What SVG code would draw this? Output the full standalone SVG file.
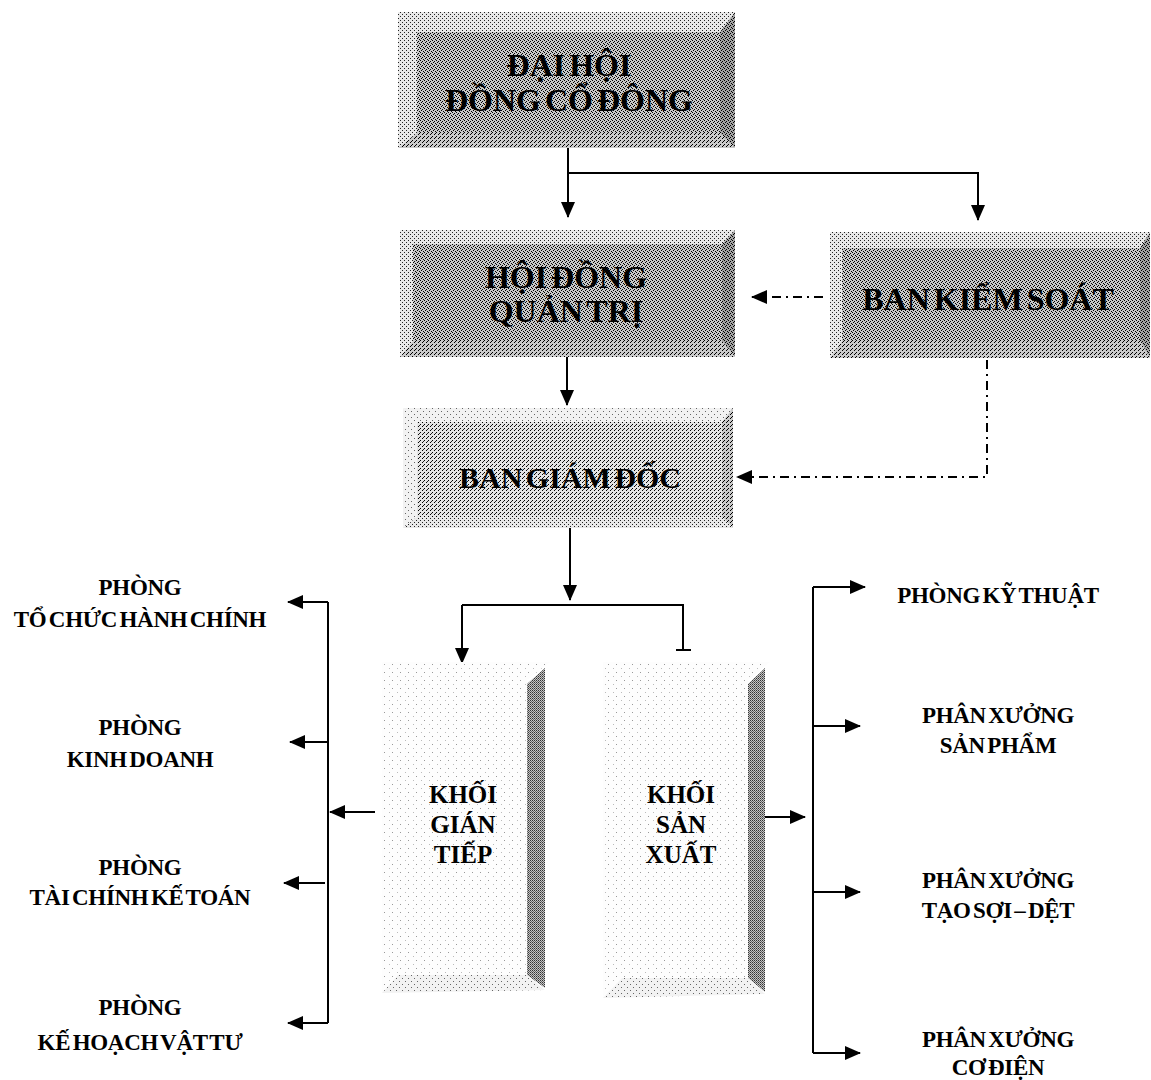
<svg xmlns="http://www.w3.org/2000/svg" width="1151" height="1080" viewBox="0 0 1151 1080">
<defs>
  <pattern id="pFace" width="4" height="4" patternUnits="userSpaceOnUse">
    <rect width="4" height="4" fill="#c8c8c8"/>
    <rect x="0" y="0" width="1" height="1" fill="#000"/>
    <rect x="2" y="1" width="1" height="1" fill="#000"/>
    <rect x="1" y="2" width="1" height="1" fill="#000"/>
    <rect x="3" y="3" width="1" height="1" fill="#000"/>
  </pattern>
  <pattern id="pLight" width="4" height="4" patternUnits="userSpaceOnUse">
    <rect width="4" height="4" fill="#e8e8e8"/>
    <rect x="0" y="0" width="1" height="1" fill="#222"/>
    <rect x="2" y="2" width="1" height="1" fill="#222"/>
  </pattern>
  <pattern id="pDark" width="4" height="4" patternUnits="userSpaceOnUse">
    <rect width="4" height="4" fill="#a4a4a4"/>
    <rect x="0" y="0" width="1" height="1" fill="#000"/>
    <rect x="2" y="1" width="1" height="1" fill="#000"/>
    <rect x="1" y="2" width="1" height="1" fill="#000"/>
    <rect x="3" y="3" width="1" height="1" fill="#000"/>
  </pattern>
  <pattern id="pMid" width="4" height="4" patternUnits="userSpaceOnUse">
    <rect width="4" height="4" fill="#cacaca"/>
    <rect x="0" y="0" width="1" height="1" fill="#000"/>
    <rect x="2" y="2" width="1" height="1" fill="#000"/>
    <rect x="3" y="1" width="1" height="1" fill="#000"/>
  </pattern>
  <pattern id="pFaceL" width="4" height="4" patternUnits="userSpaceOnUse">
    <rect width="4" height="4" fill="#e4e4e4"/>
    <rect x="0" y="0" width="1" height="1" fill="#000"/>
    <rect x="2" y="2" width="1" height="1" fill="#000"/>
    <rect x="3" y="1" width="1" height="1" fill="#222"/>
  </pattern>
  <pattern id="pPale" width="8" height="8" patternUnits="userSpaceOnUse">
    <rect width="8" height="8" fill="#fdfdfd"/>
    <rect x="0" y="0" width="1" height="1" fill="#999"/>
    <rect x="5" y="4" width="1" height="1" fill="#bbb"/>
  </pattern>
  <pattern id="pPale2" width="6" height="6" patternUnits="userSpaceOnUse">
    <rect width="6" height="6" fill="#f2f2f2"/>
    <rect x="0" y="0" width="1" height="1" fill="#666"/>
    <rect x="3" y="3" width="1" height="1" fill="#666"/>
  </pattern>
  <pattern id="pStrip" width="2" height="2" patternUnits="userSpaceOnUse">
    <rect width="2" height="2" fill="#c4c4c4"/>
    <rect x="0" y="0" width="1" height="1" fill="#333"/>
    <rect x="1" y="1" width="1" height="1" fill="#666"/>
  </pattern>
  <marker id="ah" markerUnits="userSpaceOnUse" markerWidth="16" markerHeight="14" refX="15" refY="7" orient="auto">
    <path d="M0,0 L16,7 L0,14 z" fill="#000"/>
  </marker>
  <style>
    text { font-family: 'Liberation Serif', 'Times New Roman', serif; font-weight: 700; fill: #000; text-anchor: middle; }
    .big { font-size: 32px; word-spacing: -4px; }
    .mid { font-size: 25px; }
    .sm { font-size: 23px; word-spacing: -3px; letter-spacing: -0.3px; }
    .ln { fill: none; stroke: #000; stroke-width: 2; }
    .dd { fill: none; stroke: #000; stroke-width: 2; stroke-dasharray: 9 5 2 5; }
  </style>
</defs>
<rect width="1151" height="1080" fill="#fff"/>

<g id="connectors">
  <path class="ln" d="M568,148 V217" marker-end="url(#ah)"/>
  <path class="ln" d="M568,173 H978 V220" marker-end="url(#ah)"/>
  <path class="ln" d="M567,357 V405" marker-end="url(#ah)"/>
  <path class="dd" d="M823,297 H752" marker-end="url(#ah)"/>
  <path class="dd" d="M987,360 V477 H737" marker-end="url(#ah)"/>
  <path class="ln" d="M570,528 V600" marker-end="url(#ah)"/>
  <path class="ln" d="M462,605 H683 V650"/>
  <path class="ln" d="M676,650 H691"/>
  <path class="ln" d="M462,605 V663" marker-end="url(#ah)"/>
  <path class="ln" d="M328,602 V1023"/>
  <path class="ln" d="M328,602 H288" marker-end="url(#ah)"/>
  <path class="ln" d="M328,742 H290" marker-end="url(#ah)"/>
  <path class="ln" d="M325,883 H284" marker-end="url(#ah)"/>
  <path class="ln" d="M328,1023 H288" marker-end="url(#ah)"/>
  <path class="ln" d="M375,812 H330" marker-end="url(#ah)"/>
  <path class="ln" d="M813,587 V1053"/>
  <path class="ln" d="M813,587 H865" marker-end="url(#ah)"/>
  <path class="ln" d="M813,726 H860" marker-end="url(#ah)"/>
  <path class="ln" d="M813,892 H860" marker-end="url(#ah)"/>
  <path class="ln" d="M813,1053 H860" marker-end="url(#ah)"/>
  <path class="ln" d="M755,817 H805" marker-end="url(#ah)"/>
</g>

<g id="dai-hoi-dong-co-dong">
  <polygon points="398,12 735,12 720,32 417,32" fill="url(#pLight)"/>
  <polygon points="398,12 417,32 417,133 398,148" fill="url(#pLight)"/>
  <polygon points="735,12 735,148 720,133 720,32" fill="url(#pDark)"/>
  <polygon points="398,148 417,133 720,133 735,148" fill="url(#pMid)"/>
  <rect x="417" y="32" width="303" height="101" fill="url(#pFace)"/>
  <text class="big" x="569" y="76">ĐẠI HỘI</text>
  <text class="big" x="569" y="111">ĐỒNG CỔ ĐÔNG</text>
</g>

<g id="hoi-dong-quan-tri">
  <polygon points="400,230 735,230 722,244 413,244" fill="url(#pLight)"/>
  <polygon points="400,230 413,244 413,341 400,357" fill="url(#pLight)"/>
  <polygon points="735,230 735,357 722,341 722,244" fill="url(#pDark)"/>
  <polygon points="400,357 413,341 722,341 735,357" fill="url(#pMid)"/>
  <rect x="413" y="244" width="309" height="97" fill="url(#pFace)"/>
  <text class="big" x="566" y="288">HỘI ĐỒNG</text>
  <text class="big" x="566" y="322">QUẢN TRỊ</text>
</g>

<g id="ban-kiem-soat">
  <polygon points="830,232 1150,232 1140,248 842,248" fill="url(#pLight)"/>
  <polygon points="830,232 842,248 842,341 830,358" fill="url(#pLight)"/>
  <polygon points="1150,232 1150,358 1140,341 1140,248" fill="url(#pDark)"/>
  <polygon points="830,358 842,341 1140,341 1150,358" fill="url(#pMid)"/>
  <rect x="842" y="248" width="298" height="93" fill="url(#pFace)"/>
  <text class="big" x="988" y="310">BAN KIỂM SOÁT</text>
</g>

<g id="ban-giam-doc">
  <polygon points="403,408 733,408 722,422 417,422" fill="url(#pPale2)"/>
  <polygon points="403,408 417,422 417,517 403,528" fill="url(#pPale2)"/>
  <polygon points="733,408 733,528 722,517 722,422" fill="url(#pMid)"/>
  <polygon points="403,528 417,517 722,517 733,528" fill="url(#pLight)"/>
  <rect x="417" y="422" width="305" height="95" fill="url(#pFaceL)"/>
  <text class="big" x="570" y="488" style="font-size:30px">BAN GIÁM ĐỐC</text>
</g>

<g id="khoi-gian-tiep">
  <polygon points="382,662 550,662 527,680 398,680" fill="url(#pPale)"/>
  <polygon points="382,662 398,680 398,975 382,993" fill="url(#pPale)"/>
  <polygon points="545,668 545,988 527,975 527,684" fill="url(#pStrip)"/>
  <polygon points="382,993 398,975 527,975 545,990" fill="url(#pPale2)"/>
  <rect x="398" y="680" width="129" height="295" fill="url(#pPale)"/>
  <text class="mid" x="463" y="803">KHỐI</text>
  <text class="mid" x="463" y="833">GIÁN</text>
  <text class="mid" x="463" y="863">TIẾP</text>
</g>

<g id="khoi-san-xuat">
  <polygon points="603,662 770,662 748,680 622,680" fill="url(#pPale)"/>
  <polygon points="603,662 622,680 622,978 603,998" fill="url(#pPale)"/>
  <polygon points="765,668 765,992 748,978 748,684" fill="url(#pStrip)"/>
  <polygon points="603,998 622,978 748,978 765,994" fill="url(#pPale2)"/>
  <rect x="622" y="680" width="126" height="298" fill="url(#pPale)"/>
  <text class="mid" x="681" y="803">KHỐI</text>
  <text class="mid" x="681" y="833">SẢN</text>
  <text class="mid" x="681" y="863">XUẤT</text>
</g>

<g id="phong-to-chuc-hanh-chinh">
  <text class="sm" x="140" y="595">PHÒNG</text>
  <text class="sm" x="140" y="627">TỔ CHỨC HÀNH CHÍNH</text>
</g>
<g id="phong-kinh-doanh">
  <text class="sm" x="140" y="735">PHÒNG</text>
  <text class="sm" x="140" y="767">KINH DOANH</text>
</g>
<g id="phong-tai-chinh-ke-toan">
  <text class="sm" x="140" y="875">PHÒNG</text>
  <text class="sm" x="140" y="905">TÀI CHÍNH KẾ TOÁN</text>
</g>
<g id="phong-ke-hoach-vat-tu">
  <text class="sm" x="140" y="1015">PHÒNG</text>
  <text class="sm" x="140" y="1050">KẾ HOẠCH VẬT TƯ</text>
</g>

<g id="phong-ky-thuat">
  <text class="sm" x="998" y="603">PHÒNG KỸ THUẬT</text>
</g>
<g id="phan-xuong-san-pham">
  <text class="sm" x="998" y="723">PHÂN XƯỞNG</text>
  <text class="sm" x="998" y="753">SẢN PHẨM</text>
</g>
<g id="phan-xuong-tao-soi-det">
  <text class="sm" x="998" y="888">PHÂN XƯỞNG</text>
  <text class="sm" x="998" y="918">TẠO SỢI – DỆT</text>
</g>
<g id="phan-xuong-co-dien">
  <text class="sm" x="998" y="1047">PHÂN XƯỞNG</text>
  <text class="sm" x="998" y="1075">CƠ ĐIỆN</text>
</g>
</svg>
